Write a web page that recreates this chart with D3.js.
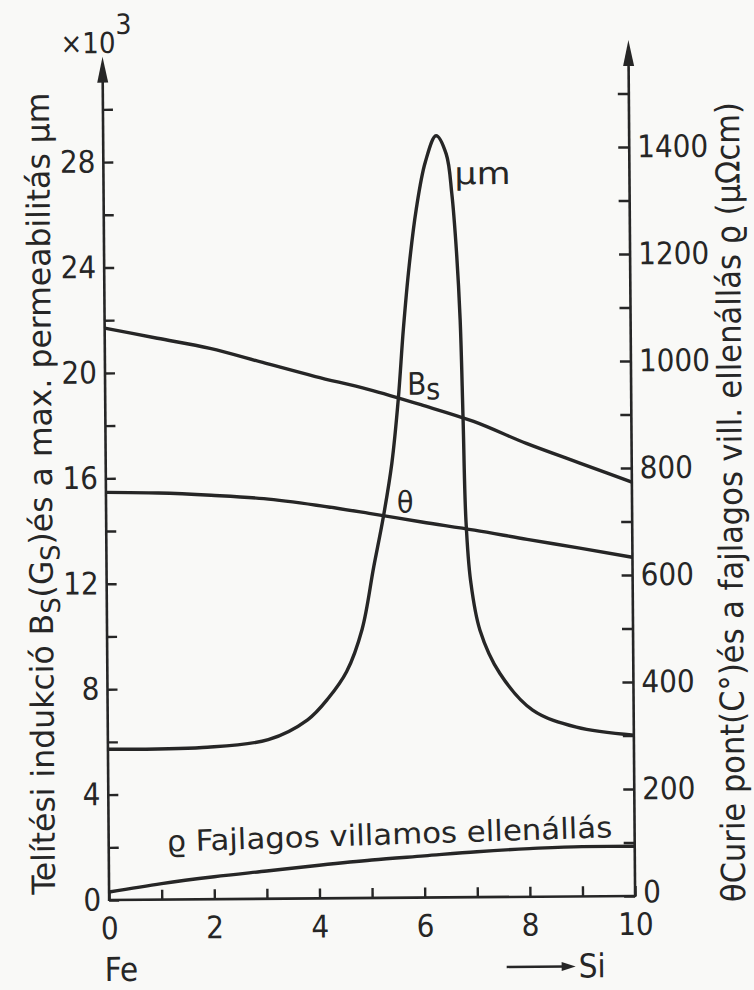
<!DOCTYPE html>
<html>
<head>
<meta charset="utf-8">
<script src="https://cdn.jsdelivr.net/npm/d3@7"></script>
<style>
  html, body { margin: 0; padding: 0; background: #f9f9f7; }
  svg { display: block; }
</style>
</head>
<body>
<div id="chart"></div>
<script>
// values (Si content in %)
const siValues = [0, 1, 2, 3, 4, 5, 6, 7, 8, 9, 10];
const bsValues = [21.7, 21.3, 20.9, 20.35, 19.8, 19.3, 18.7, 18.05, 17.2, 16.45, 15.7];      // x10^3 G
const curieValues = [762, 760, 755, 748, 735, 719, 702, 686, 668, 651, 633];                   // °C
const rhoValues = [15, 30, 42, 52, 62, 71, 78, 85, 90, 93, 93];                                 // μΩcm
const muSi = [0, 1.8, 3.05, 3.8, 4.2, 4.55, 4.85, 5.08, 5.27, 5.44, 5.57, 5.68, 5.8, 5.94, 6.12, 6.33,
              6.52, 6.62, 6.7, 6.76, 6.8, 6.84, 6.92, 7.09, 7.46, 8.08, 8.91, 10];
const muValues = [5.72, 5.76, 6.04, 6.78, 7.6, 8.6, 10.2, 12.56, 14.45, 16.49, 18.88, 21.6, 24.0, 26.1, 27.9, 28.9,
                  28.2, 26.7, 24.5, 21.9, 18.2, 14.3, 12.0, 10.13, 8.49, 7.08, 6.42, 6.1];     // x10^3
const xTickLabels = [0, 2, 4, 6, 8, 10];
const leftTickLabels = [0, 4, 8, 12, 16, 20, 24, 28];
const rightTickLabels = [0, 200, 400, 600, 800, 1000, 1200, 1400];

const W = 754, H = 990;
const INK = '#262626';
const FONT = '"DejaVu Sans Condensed", "Liberation Sans Narrow", "DejaVu Sans", sans-serif';

const svg = d3.select('#chart').append('svg')
  .attr('width', W).attr('height', H);

// the scan is slightly tilted, so the whole drawing is turned a little
const g = svg.append('g')
  .attr('transform', 'rotate(-0.45, 370, 500)');

const x = d3.scaleLinear().domain([0, 10]).range([106, 632]);
const yL = d3.scaleLinear().domain([0, 28]).range([898, 160]);
const yR = d3.scaleLinear().domain([0, 1400]).range([898, 149]);

// AXES
const leftAxis = d3.axisLeft(yL)
  .tickValues(d3.range(0, 31, 2))
  .tickSize(-10).tickPadding(8)
  .tickFormat(d => leftTickLabels.includes(d) ? d : '');
const rightAxis = d3.axisRight(yR)
  .tickValues(d3.range(0, 1501, 100))
  .tickSize(-11).tickPadding(8)
  .tickFormat(d => rightTickLabels.includes(d) ? d : '');
const bottomAxis = d3.axisBottom(x)
  .tickValues(siValues)
  .tickSize(-10).tickPadding(17)
  .tickFormat(d => xTickLabels.includes(d) ? d : '');

function styleAxis(sel) {
  sel.select('.domain').remove();
  sel.selectAll('.tick line').attr('stroke', INK).attr('stroke-width', 2.4);
  sel.selectAll('.tick text')
    .attr('fill', INK)
    .style('font-family', FONT)
    .style('font-size', '31px');
}

g.append('g').attr('transform', `translate(${x(0)},0)`).call(leftAxis).call(styleAxis);
const rightG = g.append('g').attr('transform', `translate(${x(10)},0)`).call(rightAxis).call(styleAxis);
rightG.selectAll('.tick text').filter(d => d === 0).attr('dy', '0.2em');
g.append('g').attr('transform', `translate(0,${yL(0)})`).call(bottomAxis).call(styleAxis);

// axis lines with arrow heads
g.append('line')
  .attr('x1', x(0)).attr('x2', x(0))
  .attr('y1', yL(0) + 1).attr('y2', yL(31.2))
  .attr('stroke', INK).attr('stroke-width', 2.6);
g.append('line')
  .attr('x1', x(10)).attr('x2', x(10))
  .attr('y1', yR(0) + 1).attr('y2', yR(1560))
  .attr('stroke', INK).attr('stroke-width', 2.6);
g.append('line')
  .attr('x1', x(0)).attr('x2', x(10))
  .attr('y1', yL(0)).attr('y2', yL(0))
  .attr('stroke', INK).attr('stroke-width', 2.6);

function arrowUp(cx, tip) {
  g.append('path')
    .attr('d', `M${cx},${tip} L${cx - 5.5},${tip + 26} L${cx + 5.5},${tip + 26} Z`)
    .attr('fill', INK);
}
arrowUp(x(0), yL(32));
arrowUp(x(10), yR(1600));

// CURVES
const lineL = d3.line()
  .x((d, i) => x(siValues[i]))
  .y(d => yL(d))
  .curve(d3.curveMonotoneX);
const lineR = d3.line()
  .x((d, i) => x(siValues[i]))
  .y(d => yR(d))
  .curve(d3.curveMonotoneX);
const lineMu = d3.line()
  .x((d, i) => x(muSi[i]))
  .y(d => yL(d))
  .curve(d3.curveCatmullRom.alpha(0.5));

const curves = [
  [bsValues, lineL],
  [curieValues, lineR],
  [rhoValues, lineR],
  [muValues, lineMu]
];
curves.forEach(([vals, gen]) => {
  g.append('path')
    .datum(vals)
    .attr('d', gen)
    .attr('fill', 'none')
    .attr('stroke', INK)
    .attr('stroke-width', 3.4)
    .attr('stroke-linejoin', 'round');
});

// TEXT
function txt(parent, px, py, size) {
  return parent.append('text')
    .attr('x', px).attr('y', py)
    .attr('fill', INK)
    .style('font-family', FONT)
    .style('font-size', size + 'px');
}

// multiplier at the top of the left axis
const mult = txt(g, 64, 51, 29);
mult.append('tspan').text('×10');
mult.append('tspan').attr('dy', -19).attr('font-size', 28).text('3');

// curve labels
txt(g, 457, 185, 31).attr('textLength', 56).attr('lengthAdjust', 'spacingAndGlyphs').text('μm');
const bs = txt(g, 408, 395, 31);
bs.append('tspan').text('B');
bs.append('tspan').attr('dy', 5).attr('font-size', 30).text('s');
txt(g, 397, 513, 30).text('θ');
txt(g, 0, 0, 29)
  .attr('transform', `translate(164,850) rotate(-1.4)`)
  .attr('textLength', 446).attr('lengthAdjust', 'spacingAndGlyphs')
  .text('ϱ Fajlagos villamos ellenállás');

// Fe → Si under the x axis
txt(g, 101, 979, 33).text('Fe');
txt(g, 575, 979, 33).text('Si');
g.append('line')
  .attr('x1', 503).attr('x2', 562).attr('y1', 968).attr('y2', 968)
  .attr('stroke', INK).attr('stroke-width', 2.4);
g.append('path')
  .attr('d', 'M572,968 L558,963.5 L558,972.5 Z')
  .attr('fill', INK);

// left axis title
const tl = txt(g, 0, 0, 32)
  .attr('transform', 'translate(52,491) rotate(-90)')
  .attr('text-anchor', 'middle')
  .attr('textLength', 802).attr('lengthAdjust', 'spacingAndGlyphs');
tl.append('tspan').text('Telítési indukció B');
tl.append('tspan').attr('dy', 7).attr('font-size', 26).text('S');
tl.append('tspan').attr('dy', -7).text('(G');
tl.append('tspan').attr('dy', 7).attr('font-size', 26).text('S');
tl.append('tspan').attr('dy', -7).text(')és a max. permeabilitás μm');

// right axis title
txt(g, 0, 0, 33)
  .attr('transform', 'translate(742,505) rotate(-90)')
  .attr('text-anchor', 'middle')
  .attr('textLength', 800).attr('lengthAdjust', 'spacingAndGlyphs')
  .text('θCurie pont(C°)és a fajlagos vill. ellenállás ϱ (μΩcm)');
</script>
</body>
</html>
